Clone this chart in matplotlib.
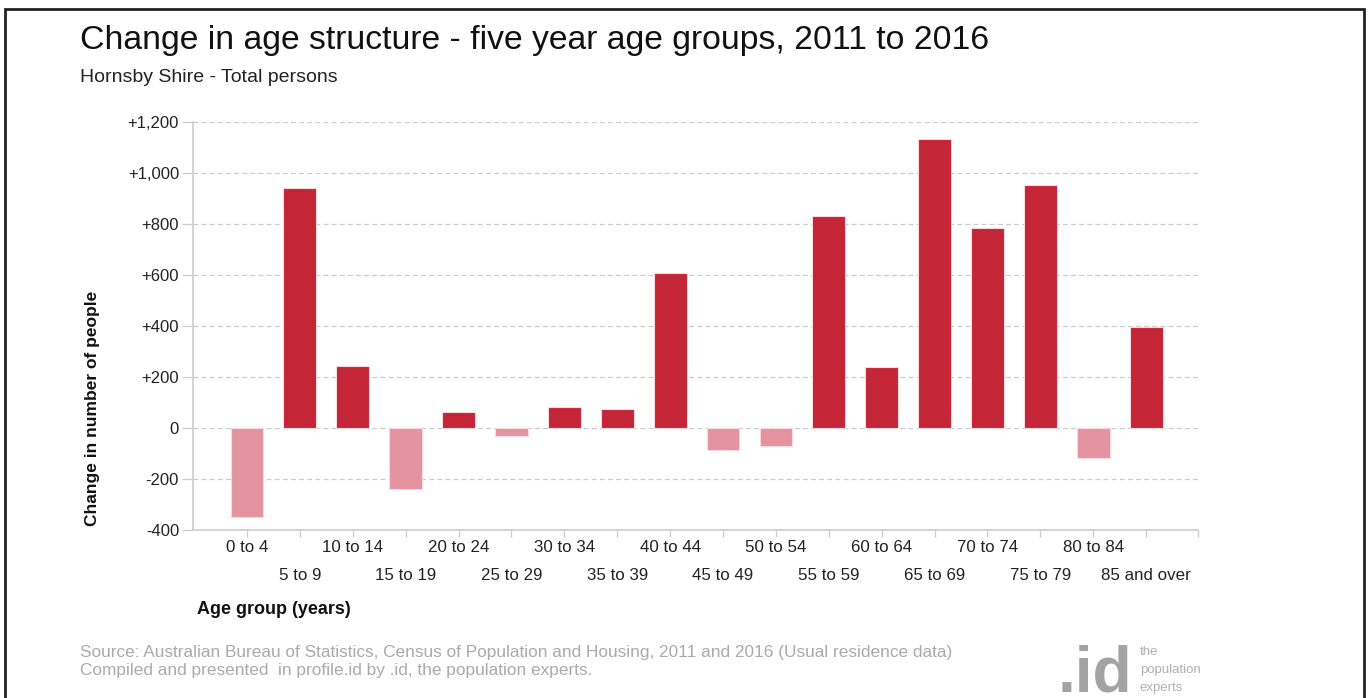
import matplotlib.pyplot as plt
import matplotlib.transforms as mtransforms
from matplotlib.patches import Rectangle
import numpy as np

plt.rcParams['font.family'] = ['Liberation Sans', 'DejaVu Sans']

# Change in persons per five-year age group, 2011 to 2016
age_groups = ["0 to 4", "5 to 9", "10 to 14", "15 to 19", "20 to 24", "25 to 29",
              "30 to 34", "35 to 39", "40 to 44", "45 to 49", "50 to 54", "55 to 59",
              "60 to 64", "65 to 69", "70 to 74", "75 to 79", "80 to 84", "85 and over"]
change = [-350, 940, 243, -239, 63, -31, 82, 75, 608, -86, -70, 831,
          239, 1133, 784, 953, -118, 396]
y_ticks = [-400, -200, 0, 200, 400, 600, 800, 1000, 1200]

pos_color = "#C42537"
neg_color = "#E494A0"

fig = plt.figure(figsize=(13.7, 6.98), dpi=100)
fig.patch.set_facecolor("white")

# frame around the whole chart
fig.add_artist(Rectangle((5 / 1370, -0.05), 1359 / 1370, 1.05 - 9 / 698,
                         transform=fig.transFigure, fill=False,
                         edgecolor="#222222", linewidth=2))

ax = fig.add_axes([193 / 1370, 1 - 530 / 698, 1005 / 1370, 408 / 698])

x = np.arange(len(age_groups))
colors = [pos_color if v >= 0 else neg_color for v in change]
ax.bar(x, change, width=0.62, color=colors, edgecolor="#f6dade", linewidth=0.8,
       zorder=3)

ax.set_xlim(-1.02, len(age_groups) - 0.02)
ax.set_ylim(-400, 1200)

ax.set_yticks(y_ticks)
ax.set_yticklabels([("+{:,}".format(v) if v > 0 else "{:,}".format(v)) for v in y_ticks],
                   fontsize=12, color="#222222")
for v in y_ticks[1:]:
    ax.axhline(v, color="#cccccc", linestyle=(0, (4, 2.5)), linewidth=0.9, zorder=1)

ax.tick_params(axis="y", length=8, color="#cccccc", width=0.9, pad=2)
ax.set_xticks(x)
ax.set_xticklabels([])
ax.set_xticks([len(age_groups) - 0.02], minor=True)
ax.tick_params(axis="x", which="both", length=5, color="#cccccc", width=1)

for side in ["top", "right"]:
    ax.spines[side].set_visible(False)
for side in ["left", "bottom"]:
    ax.spines[side].set_color("#cccccc")
    ax.spines[side].set_linewidth(1.2)

# staggered category labels
trans = mtransforms.blended_transform_factory(ax.transData, fig.transFigure)
for i, lab in enumerate(age_groups):
    yy = 1 - (548 if i % 2 == 0 else 576) / 698
    ax.text(i, yy, lab, transform=trans, ha="center", va="center",
            fontsize=12.2, color="#222222")

fig.text(92 / 1370, 1 - 408 / 698, "Change in number of people", rotation=90,
         ha="center", va="center", fontsize=12.5, fontweight="bold", color="#111111")
fig.text(197 / 1370, 1 - 609 / 698, "Age group (years)", ha="left", va="center",
         fontsize=13, fontweight="bold", color="#111111")

fig.text(80 / 1370, 1 - 41 / 698,
         "Change in age structure - five year age groups, 2011 to 2016",
         ha="left", va="center", fontsize=24.3, color="#111111")
fig.text(80 / 1370, 1 - 78 / 698, "Hornsby Shire - Total persons",
         ha="left", va="center", fontsize=14, color="#222222")

fig.text(80 / 1370, 1 - 652 / 698,
         "Source: Australian Bureau of Statistics, Census of Population and Housing, "
         "2011 and 2016 (Usual residence data)",
         ha="left", va="center", fontsize=12.4, color="#aaaaaa")
fig.text(80 / 1370, 1 - 670 / 698,
         "Compiled and presented  in profile.id by .id, the population experts.",
         ha="left", va="center", fontsize=12.4, color="#aaaaaa")

# .id logo
fig.text(1058 / 1370, 1 - 691 / 698, ".id", ha="left", va="baseline",
         fontsize=46, fontweight="bold", color="#a3a3a3")
for k, w in enumerate(["the", "population", "experts"]):
    fig.text(1140 / 1370, 1 - (652 + 18 * k) / 698, w, ha="left", va="center",
             fontsize=9.5, color="#b0b0b0")

fig.savefig("out.png", dpi=100)
